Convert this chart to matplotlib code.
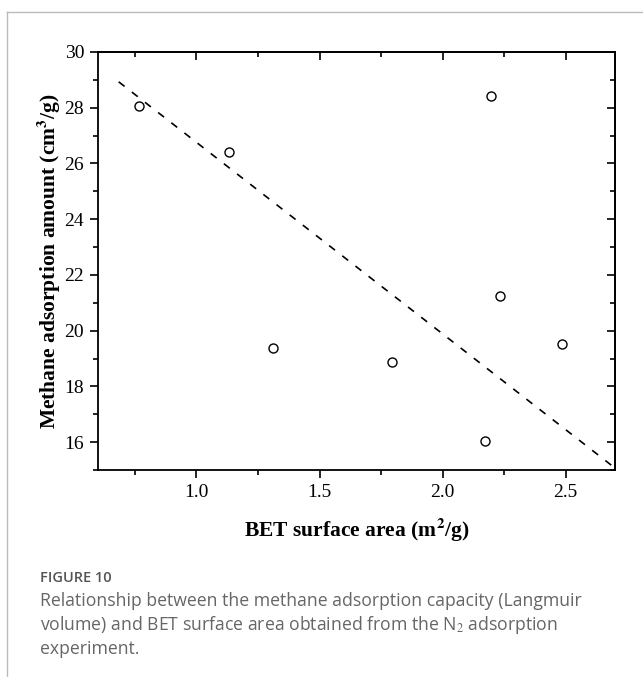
"""Methane adsorption capacity against BET surface area, with figure caption."""

import matplotlib.pyplot as plt
from matplotlib.lines import Line2D
from matplotlib.ticker import MultipleLocator

# BET surface area (m2/g) and Langmuir volume (cm3/g) per sample
bet_area = [0.766, 1.133, 1.312, 1.795, 2.172, 2.196, 2.234, 2.485]
ch4_volume = [28.06, 26.40, 19.36, 18.86, 16.05, 28.43, 21.25, 19.52]

# end points of the dashed trend line
trend_x = [0.684, 2.70]
trend_y = [28.93, 15.07]

plt.rcParams['font.family'] = ['Liberation Serif', 'DejaVu Serif']
plt.rcParams['mathtext.fontset'] = 'stix'

fig = plt.figure(figsize=(6.43, 6.77), dpi=100)
ax = fig.add_axes([0.1524, 0.3058, 0.804, 0.6174])

ax.plot(trend_x, trend_y, color='black', lw=1.2, dashes=(4.5, 5.5))
ax.plot(bet_area, ch4_volume, 'o', ms=6.5, mfc='white', mec='black', mew=1.0)

ax.set_xlim(0.6, 2.7)
ax.set_ylim(15, 30)
ax.xaxis.set_major_locator(MultipleLocator(0.5))
ax.xaxis.set_minor_locator(MultipleLocator(0.25))
ax.yaxis.set_major_locator(MultipleLocator(2))
ax.yaxis.set_minor_locator(MultipleLocator(1))

ax.tick_params(which='both', direction='out', top=False, right=False,
               labelsize=14, width=1.2, pad=4)
ax.tick_params(which='major', length=6)
ax.tick_params(which='minor', length=3.5)
for s in ax.spines.values():
    s.set_linewidth(1.3)

# mirrored ticks on top/right point into the frame
ax_top = ax.secondary_xaxis('top')
ax_top.xaxis.set_major_locator(MultipleLocator(0.5))
ax_top.xaxis.set_minor_locator(MultipleLocator(0.25))
ax_top.tick_params(which='both', direction='in', labeltop=False, width=1.2)
ax_top.tick_params(which='major', length=6)
ax_top.tick_params(which='minor', length=3.5)
ax_right = ax.secondary_yaxis('right')
ax_right.yaxis.set_major_locator(MultipleLocator(2))
ax_right.yaxis.set_minor_locator(MultipleLocator(1))
ax_right.tick_params(which='both', direction='in', labelright=False, width=1.2)
ax_right.tick_params(which='major', length=6)
ax_right.tick_params(which='minor', length=3.5)
for sec in (ax_top, ax_right):
    for s in sec.spines.values():
        s.set_linewidth(1.3)

ax.set_xlabel(r'BET surface area (m$^\mathbf{2}$/g)', fontsize=15.5,
              fontweight='bold', labelpad=11)
ax.set_ylabel(r'Methane adsorption amount (cm$^\mathbf{3}$/g)', fontsize=15.5,
              fontweight='bold', labelpad=1)

# page frame lines
fig.add_artist(Line2D([7 / 643, 1], [1 - 12 / 677] * 2, color='#bbbbbb', lw=1.0))
fig.add_artist(Line2D([7 / 643] * 2, [0, 1 - 12 / 677], color='#bbbbbb', lw=1.0))

cap_font = ['Open Sans', 'DejaVu Sans']
fig.text(40 / 643, 1 - 578 / 677, 'FIGURE 10', family=cap_font, fontsize=10.5,
         fontweight='semibold', color='#555555', va='center')
caption = ['Relationship between the methane adsorption capacity (Langmuir',
           r'volume) and BET surface area obtained from the N$_2$ adsorption',
           'experiment.']
for i, line in enumerate(caption):
    fig.text(40 / 643, 1 - (601 + 24 * i) / 677, line, family=cap_font,
             fontsize=12.7, color='#666666', va='center')

fig.savefig('out.png', dpi=100)
